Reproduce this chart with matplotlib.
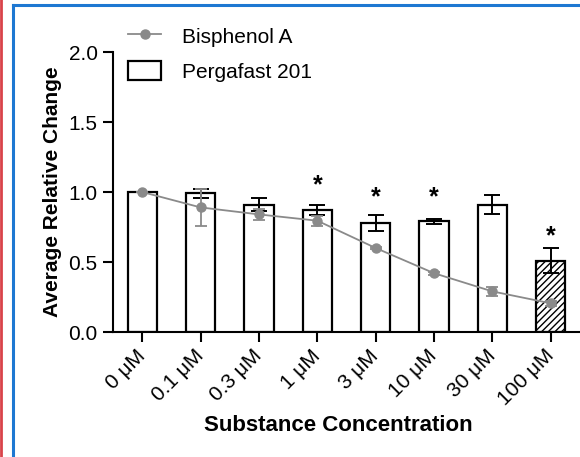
import matplotlib
matplotlib.use("Agg")
import matplotlib.pyplot as plt
from matplotlib.lines import Line2D
from matplotlib.patches import Patch

plt.rcParams["font.family"] = ["Liberation Sans", "DejaVu Sans"]

concentrations = ["0 \u03bcM", "0.1 \u03bcM", "0.3 \u03bcM", "1 \u03bcM", "3 \u03bcM",
                  "10 \u03bcM", "30 \u03bcM", "100 \u03bcM"]
pergafast = [1.0, 0.99, 0.91, 0.87, 0.78, 0.79, 0.91, 0.51]
pergafast_err = [0.0, 0.03, 0.045, 0.035, 0.055, 0.015, 0.07, 0.09]
bpa = [1.0, 0.89, 0.84, 0.795, 0.60, 0.42, 0.29, 0.205]
bpa_err = [0.0, 0.13, 0.04, 0.035, 0.01, 0.01, 0.035, 0.02]
# significance markers: bar index -> height of the star
star_idx = [3, 4, 5, 7]
star_y = [1.045, 0.965, 0.965, 0.68]
hatched = [False] * 7 + [True]

x = list(range(len(concentrations)))

fig = plt.figure(figsize=(5.8, 4.57), dpi=100)
ax = fig.add_axes([0.1948, 0.2735, 0.8052, 0.6127])

bars = ax.bar(x, pergafast, width=0.5, color="white", edgecolor="black",
              linewidth=1.6, zorder=2)
for b, h in zip(bars, hatched):
    if h:
        b.set_hatch("/////")
ax.errorbar(x, pergafast, yerr=pergafast_err, fmt="none", ecolor="black",
            elinewidth=1.4, capsize=6, capthick=1.4, zorder=3)

ax.errorbar(x, bpa, yerr=bpa_err, color="#8a8a8a", marker="o", markersize=6.5,
            linewidth=1.3, elinewidth=1.3, capsize=4, capthick=1.3, zorder=4)

for i, yy in zip(star_idx, star_y):
    ax.text(i, yy, "*", ha="center", va="center", fontsize=18, fontweight="bold")

ax.set_xlim(-0.5, 7.5)
ax.set_ylim(0, 2.0)
ax.set_yticks([0.0, 0.5, 1.0, 1.5, 2.0])
ax.set_yticklabels(["0.0", "0.5", "1.0", "1.5", "2.0"])
ax.set_xticks(x)
ax.set_xticklabels(concentrations, rotation=45, ha="right", va="center",
                   rotation_mode="anchor")

for s in ["top", "right"]:
    ax.spines[s].set_visible(False)
for s in ["left", "bottom"]:
    ax.spines[s].set_linewidth(1.5)
ax.tick_params(axis="both", direction="out", length=7, width=1.5,
               labelsize=15, pad=4)
ax.tick_params(axis="x", pad=8)

ax.set_ylabel("Average Relative Change", fontsize=15, fontweight="bold")
ax.yaxis.set_label_coords(-0.11, 0.5)
ax.set_xlabel("Substance Concentration", fontsize=16, fontweight="bold")
ax.xaxis.set_label_coords(0.482, -0.295)

handles = [Line2D([], [], color="#8a8a8a", marker="o", markersize=6.5, linewidth=1.3),
           Patch(facecolor="white", edgecolor="black", linewidth=1.6)]
fig.legend(handles, ["Bisphenol A", "Pergafast 201"],
           loc="upper left", bbox_to_anchor=(0.2207, 0.943), frameon=False,
           fontsize=15, handlelength=1.6, handleheight=1.0,
           handletextpad=1.0, labelspacing=0.7, borderpad=0,
           borderaxespad=0)

# frame lines around the panel
fig.add_artist(Line2D([13 / 580, 1.0], [1 - 5 / 457, 1 - 5 / 457],
                      transform=fig.transFigure, color="#1e78d2", linewidth=2.2))
fig.add_artist(Line2D([13 / 580, 13 / 580], [0, 1 - 5 / 457],
                      transform=fig.transFigure, color="#1e78d2", linewidth=2.2))
fig.add_artist(Line2D([1 / 580, 1 / 580], [0, 1],
                      transform=fig.transFigure, color="#d9434a", linewidth=2))

fig.savefig("out.png", dpi=100)
